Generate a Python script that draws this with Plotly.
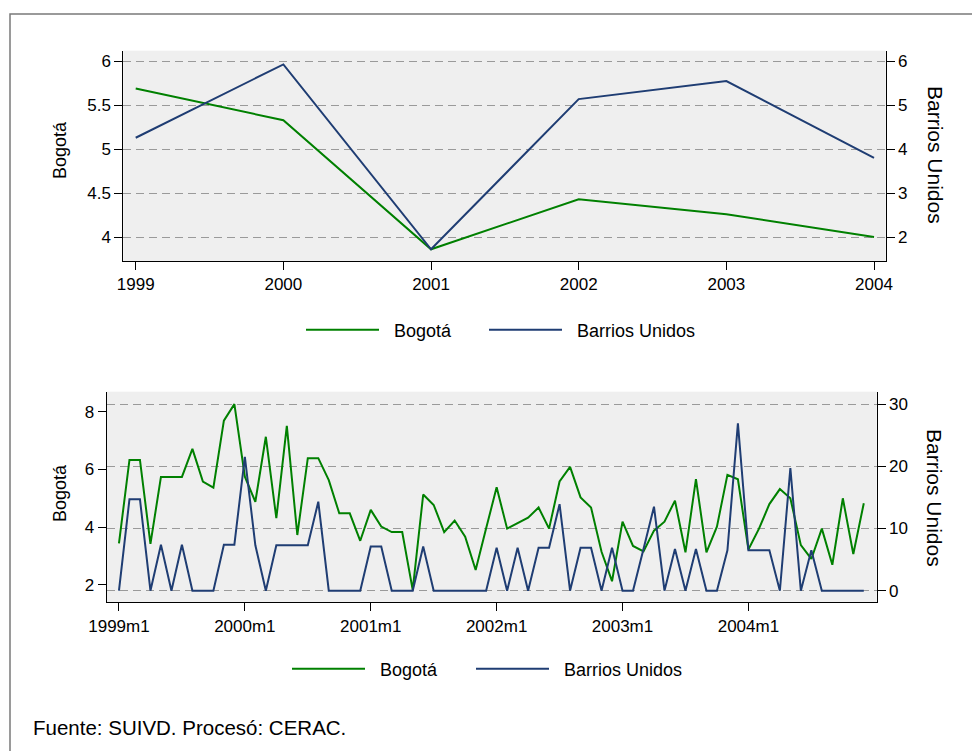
import plotly.graph_objects as go

# ---------------- data ----------------
years = [1999, 2000, 2001, 2002, 2003, 2004]
bogota_anual = [5.69, 5.33, 3.86, 4.43, 4.26, 4.00]
barrios_anual = [4.26, 5.93, 1.72, 5.14, 5.55, 3.80]

bogota_mensual = [3.44, 6.33, 6.33, 3.42, 5.74, 5.74, 5.74, 6.71, 5.58, 5.37, 7.69, 8.26,
                  5.75, 4.88, 7.13, 4.31, 7.51, 3.73, 6.39, 6.39, 5.63, 4.48, 4.48, 3.53,
                  4.60, 4.02, 3.83, 3.83, 1.83, 5.13, 4.77, 3.83, 4.23, 3.67, 2.52, 3.96,
                  5.38, 3.95, 4.13, 4.33, 4.68, 3.95, 5.58, 6.09, 5.03, 4.68, 3.15, 2.13,
                  4.19, 3.35, 3.16, 3.88, 4.19, 4.92, 3.13, 5.66, 3.13, 4.02, 5.81, 5.66,
                  3.23, 3.94, 4.80, 5.32, 5.00, 3.38, 2.90, 3.95, 2.70, 5.00, 3.07, 4.83]
barrios_mensual = [0, 14.7, 14.7, 0, 7.4, 0, 7.4, 0, 0, 0, 7.4, 7.4,
                   21.5, 7.3, 0, 7.3, 7.3, 7.3, 7.3, 14.3, 0, 0, 0, 0,
                   7.1, 7.1, 0, 0, 0, 7.1, 0, 0, 0, 0, 0, 0,
                   6.9, 0, 6.9, 0, 6.9, 6.9, 13.9, 0, 6.9, 6.9, 0, 6.9,
                   0, 0, 6.7, 13.5, 0, 6.7, 0, 6.7, 0, 0, 6.5, 26.9,
                   6.5, 6.5, 6.5, 0, 19.7, 0, 6.5, 0, 0, 0, 0, 0]
meses = list(range(len(bogota_mensual)))
mes_tickvals = [0, 12, 24, 36, 48, 60]
mes_ticktext = ["1999m1", "2000m1", "2001m1", "2002m1", "2003m1", "2004m1"]

top_left_ticks = [4, 4.5, 5, 5.5, 6]
top_left_text = ["4", "4.5", "5", "5.5", "6"]
top_right_ticks = [2, 3, 4, 5, 6]
bot_left_ticks = [2, 4, 6, 8]
bot_right_ticks = [0, 10, 20, 30]

# ---------------- style ----------------
W, H = 972, 751
GREEN = "#008000"
NAVY = "#1f3d73"
FONT = "Liberation Sans, Arial, sans-serif"
GRID = "#9a9a9a"
PAD = "\u00a0\u00a0"   # small gap between legend key and label

def px(x):
    return x / W

def py(y):
    return 1 - y / H

fig = go.Figure()
fig.add_trace(go.Scatter(x=years, y=bogota_anual, mode="lines", name=PAD + "Bogotá",
                         line=dict(color=GREEN, width=2), xaxis="x", yaxis="y",
                         legend="legend"))
fig.add_trace(go.Scatter(x=years, y=barrios_anual, mode="lines",
                         name=PAD + "Barrios Unidos",
                         line=dict(color=NAVY, width=2), xaxis="x", yaxis="y2",
                         legend="legend2"))
fig.add_trace(go.Scatter(x=meses, y=bogota_mensual, mode="lines", name=PAD + "Bogotá",
                         line=dict(color=GREEN, width=2), xaxis="x2", yaxis="y3",
                         legend="legend3"))
fig.add_trace(go.Scatter(x=meses, y=barrios_mensual, mode="lines",
                         name=PAD + "Barrios Unidos",
                         line=dict(color=NAVY, width=2), xaxis="x2", yaxis="y4",
                         legend="legend4"))

axcommon = dict(showline=True, linecolor="black", linewidth=1, ticks="outside",
                ticklen=8, tickcolor="black", tickwidth=1, zeroline=False,
                automargin=False,
                tickfont=dict(family=FONT, size=17, color="black"))

top_x = [px(123.3), px(885.7)]
top_y = [py(261), py(50.7)]
bot_x = [px(106.7), px(876.7)]
bot_y = [py(602.3), py(391.7)]

def leg(x, y):
    return dict(orientation="h", x=px(x), y=py(y), xanchor="left", yanchor="middle",
                itemwidth=73, font=dict(family=FONT, size=18, color="black"),
                bgcolor="rgba(0,0,0,0)")

fig.update_layout(
    template="none",
    width=W, height=H,
    margin=dict(l=0, r=0, t=0, b=0, autoexpand=False),
    paper_bgcolor="white", plot_bgcolor="#efefef",
    font=dict(family=FONT, size=17, color="black"),
    xaxis=dict(domain=top_x, anchor="y", range=[1998.916, 2004.079],
               tickvals=years, showgrid=False, **axcommon),
    yaxis=dict(domain=top_y, anchor="x", range=[3.727, 6.121],
               tickvals=top_left_ticks, ticktext=top_left_text, showgrid=False,
               **axcommon),
    yaxis2=dict(overlaying="y", side="right", anchor="x", range=[1.454, 6.242],
                tickvals=top_right_ticks, showgrid=True, gridcolor=GRID,
                griddash="8px,5px", gridwidth=1, **axcommon),
    xaxis2=dict(domain=bot_x, anchor="y3", range=[-1.17, 72.23],
                tickvals=mes_tickvals, ticktext=mes_ticktext, showgrid=False,
                **axcommon),
    yaxis3=dict(domain=bot_y, anchor="x2", range=[1.40, 8.69],
                tickvals=bot_left_ticks, showgrid=False, **axcommon),
    yaxis4=dict(overlaying="y3", side="right", anchor="x2", range=[-1.86, 31.98],
                tickvals=bot_right_ticks, showgrid=True, gridcolor=GRID,
                griddash="8px,5px", gridwidth=1, **axcommon),
    legend=leg(301, 330),
    legend2=leg(484, 330),
    legend3=leg(287, 669),
    legend4=leg(471, 669),
    showlegend=True,
)

ann = [
    dict(text="Bogotá", x=px(60), y=py(150), textangle=-90, size=18),
    dict(text="Barrios Unidos", x=px(935), y=py(155), textangle=90, size=21),
    dict(text="Bogotá", x=px(60), y=py(493), textangle=-90, size=18),
    dict(text="Barrios Unidos", x=px(935), y=py(498), textangle=90, size=21),
]
for a in ann:
    size = a.pop("size")
    fig.add_annotation(xref="paper", yref="paper", showarrow=False,
                       xanchor="center", yanchor="middle",
                       font=dict(family=FONT, size=size, color="black"), **a)
fig.add_annotation(xref="paper", yref="paper", showarrow=False, x=px(31), y=py(727),
                   xanchor="left", yanchor="middle",
                   text="Fuente: SUIVD. Procesó: CERAC.",
                   font=dict(family=FONT, size=20.5, color="black"))

fig.add_shape(type="rect", xref="paper", yref="paper",
              x0=px(10), x1=px(990), y0=py(14), y1=py(770),
              line=dict(color="#7a7a7a", width=1.5), layer="below")

fig.write_html("out.html", config={"displayModeBar": False},
               post_script="document.body.style.margin='0px';"
                           "document.body.style.overflow='hidden';")
